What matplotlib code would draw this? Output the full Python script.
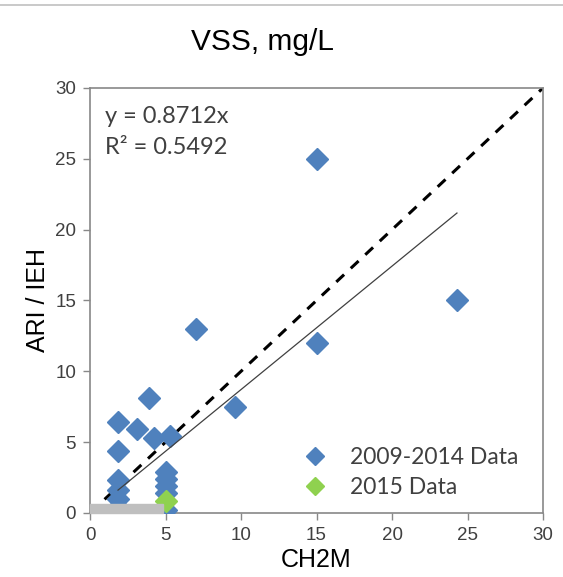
import matplotlib

matplotlib.use("Agg")
import matplotlib.pyplot as plt
from matplotlib.lines import Line2D
from matplotlib.patches import Rectangle
import numpy as np

# 2009-2014 data (CH2M vs ARI / IEH)
x_old = [15.0, 24.3, 15.0, 7.0, 9.6, 3.9, 1.85, 3.1, 4.25, 5.3,
         1.85, 1.85, 1.85, 1.85, 1.85,
         5.0, 5.0, 5.0, 5.0, 5.0]
y_old = [25.0, 15.0, 12.0, 13.0, 7.5, 8.1, 6.45, 5.95, 5.3, 5.45,
         4.4, 2.3, 1.6, 1.0, 0.45,
         2.9, 2.4, 1.9, 1.4, 0.2]
# 2015 data
x_new = [5.0]
y_new = [0.85]

slope = 0.8712
r2 = 0.5492
fit_range = [min(x_old), max(x_old)]
# shaded detection-limit band
band_x = 4.8
band_y = 0.65

BLUE = "#4F81BD"
GREEN = "#8FD14F"
AXC = "#888888"
TXT = "#404040"

plt.rcParams["font.family"] = ["Liberation Sans", "DejaVu Sans"]

fig = plt.figure(figsize=(5.63, 5.77), dpi=100)
ax = fig.add_axes([0.160, 0.111, 0.8045, 0.7366])

# 1:1 line
ax.plot([0, 30], [0, 30], ls=(0, (3.5, 3)), color="black", lw=2.2, zorder=2)

ax.plot(x_old, y_old, ls="none", marker="D", ms=11, color=BLUE,
        mec=BLUE, zorder=3)
ax.plot(x_new, y_new, ls="none", marker="D", ms=11, color=GREEN,
        mec=GREEN, zorder=4)

xf = np.array(fit_range)
ax.plot(xf, slope * xf, color="#404040", lw=0.9, zorder=5)

ax.add_patch(Rectangle((0, 0), band_x, band_y, color="#BFBFBF", zorder=6,
                       clip_on=False))

ax.set_xlim(0, 30)
ax.set_ylim(0, 30)
ax.set_xticks(range(0, 31, 5))
ax.set_yticks(range(0, 31, 5))
ax.tick_params(axis="both", direction="out", length=5, width=1, color=AXC,
               labelsize=13.5, labelcolor=TXT, pad=5)
for s_ in ax.spines.values():
    s_.set_color(AXC)
    s_.set_linewidth(1.2)

ax.set_xlabel("CH2M", fontsize=18, color="black", labelpad=3)
ax.set_ylabel("ARI / IEH", fontsize=18, color="black", labelpad=4)
fig.suptitle("VSS, mg/L", x=0.467, y=0.952, fontsize=21.5, color="black")

ax.text(0.033, 0.958, f"y = {slope}x\nR² = {r2}", transform=ax.transAxes,
        ha="left", va="top", fontsize=17, color=TXT, family="Lato",
        linespacing=1.6)

handles = [
    Line2D([], [], ls="none", marker="D", ms=9, color=BLUE, mec=BLUE),
    Line2D([], [], ls="none", marker="D", ms=9, color=GREEN, mec=GREEN),
]
ax.legend(handles, ["2009-2014 Data", "2015 Data"], loc="lower left",
          bbox_to_anchor=(0.459, 0.035), frameon=False, borderpad=0,
          borderaxespad=0, prop={"family": "Lato", "size": 16.5},
          labelcolor=TXT, handletextpad=0.78, labelspacing=0.38,
          handlelength=1.5)

# thin rule across the top of the image
fig.add_artist(Line2D([0, 1], [0.992, 0.992], color="#C0C0C0", lw=1.2,
                      transform=fig.transFigure))

fig.savefig("out.png", dpi=100)
